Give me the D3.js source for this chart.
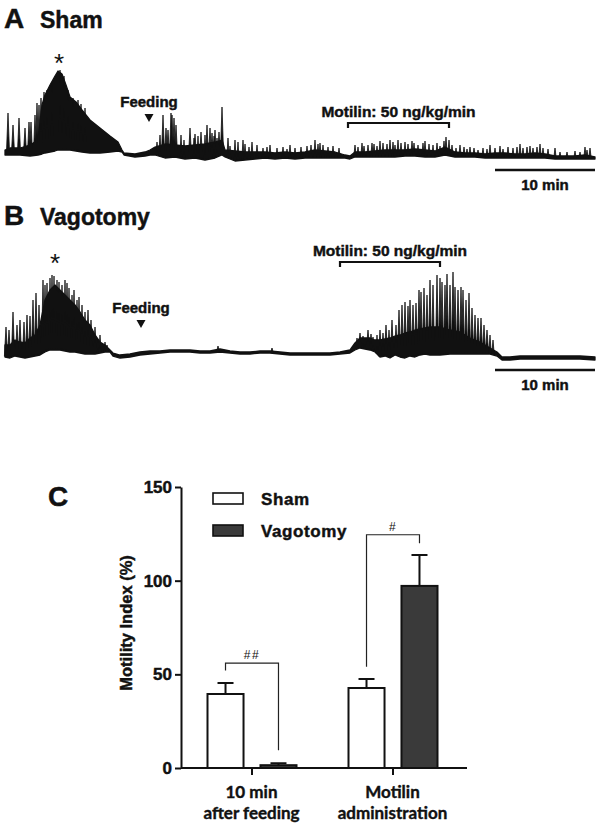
<!DOCTYPE html>
<html>
<head>
<meta charset="utf-8">
<script src="https://cdn.jsdelivr.net/npm/d3@7"></script>
<style>
  body { margin: 0; background: #fff; }
  text { font-family: "Liberation Sans", Arial, sans-serif; font-weight: bold; fill: #111; }
  .heavy { stroke: #111; stroke-width: 0.45px; }
  .cat { font-family: Lato, "Open Sans", sans-serif; stroke: #111; stroke-width: 0.4px; }
</style>
</head>
<body>
<svg id="fig" width="600" height="829"></svg>
<script>
// ---- DATA: motility traces (time in min, amplitude in arbitrary units) ----
// band rows: [time, lower edge, upper edge] of the dense part of the trace
const shamBand = [
  [0,5,10],[0.5,5,12],[1.5,5,12],[2.5,4,15],[3.3,5,20],[3.7,6,55],[4,7,65],[4.5,8,75],
  [5,9,84],[5.3,10,89],[5.7,10,86],[6.1,10,75],[6.5,10,63],[7.1,9,58],[7.7,8,50],[8.5,7,40],
  [9.5,7,32],[10.5,8,24],[11.3,9,18],[11.7,8,10],[11.9,5,7],[13,3,6],[14,4,8],[14.5,5,10],
  [15,5,13],[16,2,16],[17,3,15],[18,1,14],[19,2,15],[20,0,16],[21,2,18],[21.7,5,20],
  [22,3,10],[23,-1,9],[24,0,8],[25,1,8],[26,2,8],[27,1,7],[28,2,8],[29,1,7],
  [30,2,8],[31,2,10],[32,2,9],[33,2,8],[34,2,5],[34.5,1,4],[35,3,8],[36,3,8],
  [37,3,9],[38,3,10],[39,3,10],[40,4,10],[41,4,11],[42,3,10],[43,3,9],[44,5,13],
  [45,3,8],[46,3,7],[47,3,7],[48,2,6],[49,2,7],[50,2,7],[51,2,6],[52,2,6],
  [53,2,7],[54,2,6],[55,1,4],[56,1,4],[57,1,4],[58,1,5],[59,1,3]
];
// spike rows: [time, peak]
const shamSpikes = [
  [0.3,47],[0.8,35],[1.4,42],[2.0,32],[2.4,38],[2.6,38],[3.0,45],[3.2,57],[3.4,55],[3.6,62],
  [3.9,68],[4.2,70],[4.7,78],[5.5,90],[5.9,84],[6.3,70],[6.8,62],[7.3,60],[7.6,56],[8.0,52],
  [15.5,25],[15.8,45],[16.1,32],[16.3,30],[16.6,47],[16.7,45],[16.9,42],[17.1,35],[17.6,25],
  [18.5,32],[19.0,26],[19.6,28],[20.0,25],[20.2,35],[20.5,32],[20.7,27],[21.0,30],[21.4,28],
  [21.7,53],[22.3,22],[23.0,20],[23.8,20],[24.7,18],[26.5,15],[28.5,15],[31.0,20],[31.5,17],
  [35.0,15],[35.7,17],[36.7,17],[37.5,19],[38.5,20],[39.3,20],[40.0,18],[40.7,19],[42.0,19],
  [43.2,17],[44.1,23],[44.4,20],[45.5,15],[46.5,13],[48.5,15],[49.5,14],[51.5,16],[52.5,14],
  [53.5,16],[55.0,12],[58.0,13],[58.5,12],
  [15.2,18],[17.9,20],[18.9,22],[19.3,24],[20.9,24],[21.2,22],
  [22.5,14],[23.3,18],[24.0,16],[24.4,13],[25.2,15],[25.8,12],[26.2,13],[27.2,12],[27.8,13],
  [28.2,11],[29.0,12],[29.6,13],[30.2,14],[30.6,15],[31.3,16],[31.8,15],[32.3,13],[32.8,14],
  [33.4,12],[35.3,13],[35.9,14],[36.3,15],[36.9,16],[37.2,14],[37.8,17],[38.2,16],[38.8,18],
  [39.0,15],[39.6,17],[40.3,16],[40.9,17],[41.3,15],[41.8,17],[42.4,16],[42.8,15],[43.5,14],
  [43.9,19],[44.7,15],[45.1,12],[45.9,13],[46.2,11],[46.9,12],[47.3,10],[47.8,12],[48.2,11],
  [49.0,12],[49.8,11],[50.3,13],[50.8,12],[51.2,13],[51.8,12],[52.2,13],[52.8,12],[53.2,13],
  [53.8,12],[54.3,11],[55.5,8],[56.2,8],[57.0,9],[57.5,8],[58.2,10]
];

const vagoBand = [
  [0,3,15],[0.5,2,15],[1,4,20],[1.5,3,18],[2,2,17],[2.5,3,22],[3,4,25],[3.5,5,35],
  [4,8,60],[4.5,10,70],[5,10,75],[5.5,10,70],[6,9,65],[6.5,8,60],[7,8,55],[7.5,7,48],
  [8,6,40],[8.5,6,35],[9,6,25],[9.5,7,18],[10,8,15],[10.5,8,10],[10.8,4,7],[11.5,2,5],
  [12.5,3,6],[13.5,5,8],[14.5,6,9],[15.5,7,9],[16.5,8,10],[17.5,8,10],[18.5,8,10],
  [19.5,7,9],[20.5,7,9],[21.5,8,11],[22.5,7,9],[23.5,6,8],[24.5,6,8],[25.5,7,9],
  [26.5,7,9],[27.5,6,8],[28.5,5,7],[29.5,5,7],[30.5,5,7],[31.5,5,7],[32.5,5,7],
  [33.5,6,8],[34.5,7,10],[35,10,17],[35.5,12,22],[36,11,22],[36.5,10,22],[37,8,20],
  [37.5,3,20],[38,4,21],[38.5,2,22],[39,5,24],[39.5,3,25],[40,2,27],[40.5,4,28],
  [41,3,30],[41.5,5,31],[42,6,32],[42.5,5,33],[43.5,5,33],[44.5,6,30],[45.5,6,28],
  [46.5,6,22],[47.5,6,18],[48.5,6,12],[49.2,4,8],[49.7,0,3],[50.5,0,3],[51.5,1,4],
  [53.5,1,4],[55.5,1,4],[57.5,1,4],[59,0,3]
];
const vagoSpikes = [
  [0.1,33],[0.4,30],[0.8,48],[1.2,35],[1.5,40],[1.9,38],[2.2,45],[2.5,44],[2.8,60],[3.1,67],
  [3.4,55],[3.8,80],[4.0,75],[4.2,77],[4.5,82],[4.7,85],[4.9,84],[5.2,80],[5.4,78],[5.7,75],
  [6.0,80],[6.2,77],[6.4,72],[6.7,65],[6.9,70],[7.2,60],[7.4,63],[7.7,55],[8.0,48],[8.3,50],
  [8.6,40],[9.0,33],[9.3,20],[9.5,25],[10.0,18],[10.2,15],[21.3,14],[26.7,12],
  [35.2,22],[35.5,27],[35.8,24],[36.0,22],[36.3,30],[36.6,26],[36.8,23],[37.2,25],[37.5,30],
  [37.8,27],[38.1,35],[38.4,30],[38.7,40],[39.1,35],[39.4,50],[39.7,55],[40.0,58],[40.3,54],
  [40.5,60],[40.8,55],[41.1,57],[41.4,70],[41.6,68],[41.9,72],[42.2,65],[42.5,80],[42.8,75],
  [43.2,85],[43.5,82],[43.7,78],[44.0,75],[44.2,86],[44.5,75],[44.8,88],[45.0,73],[45.3,70],
  [45.6,73],[45.8,70],[46.1,60],[46.4,67],[46.7,52],[47.0,45],[47.3,42],[47.6,42],[47.9,35],
  [48.2,30],[48.5,25],[48.8,20]
];

// event times (min)
const shamFeeding = 14.4, vagoFeeding = 13.6;
const shamMotilin = [34.3, 44.4], vagoMotilin = [33.5, 43.5];
const scaleBarMin = [49, 59];

// ---- DATA: motility index bar chart ----
const categories = ["10 min|after feeding", "Motilin|administration"];
const groups = ["Sham", "Vagotomy"];
const shamMI = [39.5, 42.7], shamSEM = [5.9, 4.8];
const vagoMI = [1.5, 97.2], vagoSEM = [1.0, 16.5];
const yTicks = [0, 50, 100, 150];
// significance brackets: [category, left bottom, top, right bottom, label]
const brackets = [
  [0, 52, 56, 9.5, "##"],
  [1, 54, 124.5, 120, "#"]
];

const svg = d3.select("#fig");

// ===================== TRACES =====================
const x = d3.scaleLinear().domain([0, 59]).range([5, 595]);
const yA = d3.scaleLinear().domain([0, 100]).range([160, 60]);
const yB = d3.scaleLinear().domain([0, 100]).range([360, 260]);

function drawTrace(band, spikes, y) {
  const g = svg.append("g");
  const area = d3.area()
    .x(d => x(d[0]))
    .y0(d => y(d[1]))
    .y1(d => y(d[2]));
  g.append("path")
    .datum(band)
    .attr("d", area)
    .attr("fill", "#111")
    .attr("stroke", "#111")
    .attr("stroke-width", 1.3)
    .attr("stroke-linejoin", "round");

  // lower edge of the band at any time, for the spike feet
  const bis = d3.bisector(d => d[0]).left;
  const loAt = t => {
    const i = Math.max(1, Math.min(band.length - 1, bis(band, t)));
    const a = band[i - 1], b = band[i];
    const k = (t - a[0]) / (b[0] - a[0]);
    return a[1] + k * (b[1] - a[1]);
  };
  g.selectAll(".spike")
    .data(spikes)
    .join("path")
    .attr("class", "spike")
    .attr("d", d => {
      const foot = y(loAt(d[0]) + 1);
      const w = d[1] > 25 ? 0.16 : 0.12;
      return `M${x(d[0] - w)},${foot}L${x(d[0])},${y(d[1])}L${x(d[0] + w)},${foot}Z`;
    })
    .attr("fill", "#111")
    .attr("stroke", "#111")
    .attr("stroke-width", 0.8)
    .attr("stroke-linejoin", "round");
}

function drawMarks(y, title, titleY, starT, starY, feedT, feedTextY, motilin, motY) {
  // panel letter and name
  svg.append("text").attr("class", "heavy").attr("x", 4).attr("y", titleY)
    .style("font-size", "28px").text(title[0]);
  svg.append("text").attr("class", "heavy").attr("x", 40).attr("y", titleY)
    .style("font-size", "23px").text(title[1]);

  svg.append("text").attr("x", x(starT)).attr("y", starY)
    .attr("text-anchor", "middle").style("font-size", "26px").style("font-weight", "normal").text("*");

  // feeding marker
  svg.append("text").attr("class", "heavy").attr("x", x(feedT)).attr("y", feedTextY)
    .attr("text-anchor", "middle").style("font-size", "15px").text("Feeding");
  const fx = x(feedT), fy = feedTextY + 7;
  svg.append("path")
    .attr("d", `M${fx - 4.5},${fy}L${fx + 4.5},${fy}L${fx},${fy + 8}Z`)
    .attr("fill", "#111");

  // motilin infusion bracket
  svg.append("path")
    .attr("d", `M${x(motilin[0])},${motY + 5}V${motY}H${x(motilin[1])}V${motY + 5}`)
    .attr("fill", "none").attr("stroke", "#111").attr("stroke-width", 2.2);
  svg.append("text").attr("class", "heavy").attr("x", (x(motilin[0]) + x(motilin[1])) / 2).attr("y", motY - 6)
    .attr("text-anchor", "middle").style("font-size", "15.5px").text("Motilin: 50 ng/kg/min");

  // 10 min scale bar
  const sy = y(0) + 10;
  svg.append("line")
    .attr("x1", x(scaleBarMin[0])).attr("x2", x(scaleBarMin[1]))
    .attr("y1", sy).attr("y2", sy)
    .attr("stroke", "#111").attr("stroke-width", 2.5);
  svg.append("text").attr("class", "heavy").attr("x", (x(scaleBarMin[0]) + x(scaleBarMin[1])) / 2).attr("y", sy + 20)
    .attr("text-anchor", "middle").style("font-size", "15px").text("10 min");
}

drawTrace(shamBand, shamSpikes, yA);
drawMarks(yA, ["A", "Sham"], 28, 5.4, 72, shamFeeding, 107, shamMotilin, 123);

drawTrace(vagoBand, vagoSpikes, yB);
drawMarks(yB, ["B", "Vagotomy"], 225, 5.0, 272, vagoFeeding, 313, vagoMotilin, 262);

// ===================== BAR CHART =====================
const yC = d3.scaleLinear().domain([0, 150]).range([768, 487]);
const xC = d3.scalePoint().domain(categories).range([181, 463]).padding(0.5);
const xG = d3.scaleBand().domain(groups).range([-44, 45]).paddingInner(0.32);
const fills = { Sham: "#fff", Vagotomy: "#3a3a3a" };

svg.append("text").attr("class", "heavy").attr("x", 48).attr("y", 506).style("font-size", "28px").text("C");

const rows = [];
categories.forEach((c, i) => {
  rows.push({ cat: c, grp: "Sham", v: shamMI[i], e: shamSEM[i] });
  rows.push({ cat: c, grp: "Vagotomy", v: vagoMI[i], e: vagoSEM[i] });
});

const bars = svg.append("g");
const cx = d => xC(d.cat) + xG(d.grp) + xG.bandwidth() / 2;

// error bars (upper only)
bars.selectAll(".err")
  .data(rows)
  .join("path")
  .attr("d", d => `M${cx(d)},${yC(d.v)}V${yC(d.v + d.e)}M${cx(d) - 8},${yC(d.v + d.e)}H${cx(d) + 8}`)
  .attr("stroke", "#111").attr("stroke-width", 2).attr("fill", "none");

bars.selectAll("rect")
  .data(rows)
  .join("rect")
  .attr("x", d => xC(d.cat) + xG(d.grp))
  .attr("y", d => yC(d.v))
  .attr("width", xG.bandwidth())
  .attr("height", d => yC(0) - yC(d.v))
  .attr("fill", d => fills[d.grp])
  .attr("stroke", "#111").attr("stroke-width", 2);

// significance brackets
brackets.forEach(b => {
  const c = categories[b[0]];
  const lx = xC(c) + xG("Sham") + xG.bandwidth() / 2;
  const rx = xC(c) + xG("Vagotomy") + xG.bandwidth() / 2;
  svg.append("path")
    .attr("d", `M${lx},${yC(b[1])}V${yC(b[2])}H${rx}V${yC(b[3])}`)
    .attr("fill", "none").attr("stroke", "#222").attr("stroke-width", 1.2);
  svg.append("text").attr("x", (lx + rx) / 2).attr("y", yC(b[2]) - 4)
    .attr("text-anchor", "middle").style("font-size", "12px").style("font-weight", "normal")
    .style("letter-spacing", "1.5px").text(b[4]);
});

// axes
const yAxis = svg.append("g")
  .attr("transform", "translate(181,0)")
  .call(d3.axisLeft(yC).tickValues(yTicks).tickSize(6).tickSizeOuter(0).tickPadding(3));
yAxis.select(".domain").attr("stroke", "#111").attr("stroke-width", 2);
yAxis.selectAll(".tick line").attr("stroke", "#111").attr("stroke-width", 2);
yAxis.selectAll(".tick text")
  .attr("class", "heavy")
  .style("font-size", "17px").style("font-family", "'Liberation Sans', Arial, sans-serif")
  .style("font-weight", "bold").attr("fill", "#111");

const xAxis = svg.append("g")
  .attr("transform", "translate(0,768)")
  .call(d3.axisBottom(xC).tickSize(7).tickSizeOuter(0).tickFormat(""));
xAxis.select(".domain").attr("d", "M181,0H467").attr("stroke", "#111").attr("stroke-width", 2);
xAxis.selectAll(".tick line").attr("stroke", "#111").attr("stroke-width", 2);

categories.forEach(c => {
  const parts = c.split("|");
  parts.forEach((p, j) => {
    svg.append("text").attr("class", "cat")
      .attr("x", xC(c)).attr("y", 798 + j * 21)
      .attr("text-anchor", "middle").style("font-size", "17px").text(p);
  });
});

svg.append("text").attr("class", "heavy")
  .attr("transform", "rotate(-90)")
  .attr("x", -623).attr("y", 132)
  .attr("text-anchor", "middle").style("font-size", "16.5px")
  .text("Motility Index (%)");

// legend
groups.forEach((gname, i) => {
  const ly = 493 + i * 32;
  svg.append("rect").attr("x", 213).attr("y", ly).attr("width", 30).attr("height", 11)
    .attr("fill", fills[gname]).attr("stroke", "#111").attr("stroke-width", 1.6);
  svg.append("text").attr("class", "heavy").attr("x", 261).attr("y", ly + 12)
    .style("font-size", "17px").style("letter-spacing", "0.6px").text(gname);
});
</script>
</body>
</html>
